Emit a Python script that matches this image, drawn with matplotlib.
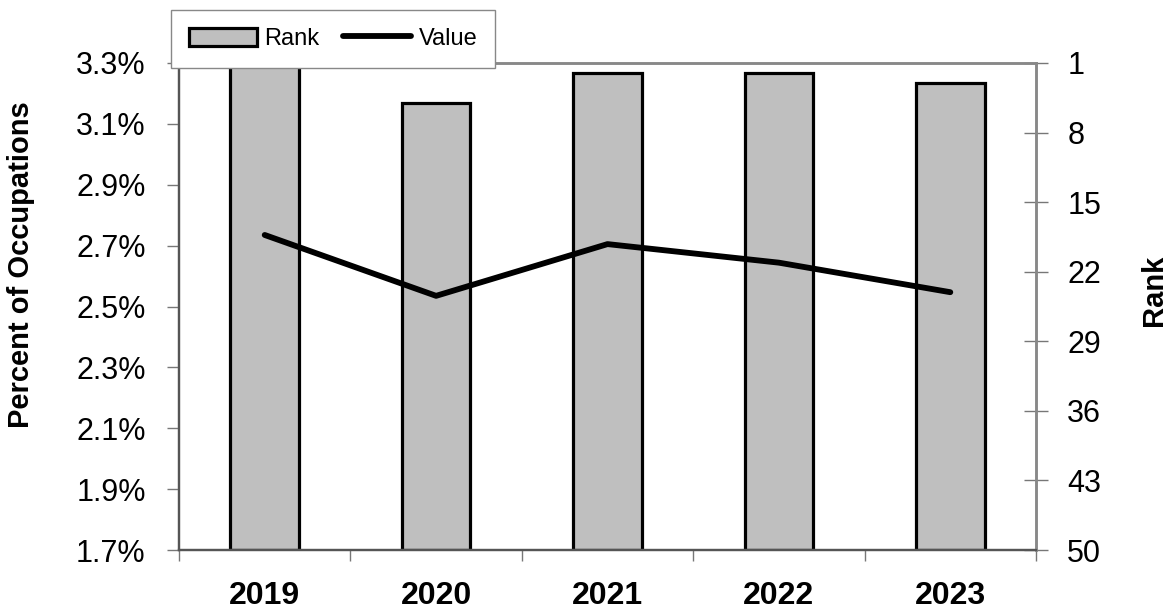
import matplotlib
matplotlib.use("Agg")
import matplotlib.pyplot as plt
from matplotlib.patches import Patch
from matplotlib.lines import Line2D
import numpy as np

# Occupation share and rank by year
years = ["2019", "2020", "2021", "2022", "2023"]
rank = [1, 5, 2, 2, 3]
value_pct = [2.735, 2.535, 2.705, 2.644, 2.547]

pct_ticks = [1.7, 1.9, 2.1, 2.3, 2.5, 2.7, 2.9, 3.1, 3.3]
rank_ticks = [1, 8, 15, 22, 29, 36, 43, 50]

plt.rcParams["font.family"] = ["Liberation Sans", "DejaVu Sans"]

W, H = 1170, 610
fig = plt.figure(figsize=(W / 100, H / 100), dpi=100)
ax_l, ax_r, ax_t, ax_b = 179, 1036, 63, 550
ax = fig.add_axes([ax_l / W, 1 - ax_b / H, (ax_r - ax_l) / W, (ax_b - ax_t) / H])
ax2 = ax.twinx()

x = np.arange(len(years))

# Rank bars on the right axis (rank 1 at top)
ax2.bar(x, np.array(rank) - 50, bottom=50, width=0.4, color="#bfbfbf",
        edgecolor="black", linewidth=2.3, zorder=2)
ax2.set_ylim(50, 1)
ax2.set_yticks(rank_ticks)
ax2.set_yticklabels([str(r) for r in rank_ticks], fontsize=22)
ax2.tick_params(axis="y", direction="inout", length=17, width=1.0,
                color="#777777", pad=14)

# Percentage line on the left axis, drawn above the bars
ax.set_zorder(ax2.get_zorder() + 1)
ax.patch.set_visible(False)
ax.plot(x, value_pct, color="black", linewidth=4.2, solid_capstyle="round",
        solid_joinstyle="round", zorder=3)
ax.set_ylim(1.7, 3.3)
ax.set_yticks(pct_ticks)
ax.set_yticklabels([f"{v:.1f}%" for v in pct_ticks], fontsize=22)
ax.tick_params(axis="y", direction="out", length=9, width=1.0,
               color="#777777", pad=15)

ax.set_xlim(-0.5, len(years) - 0.5)
ax.set_xticks(x)
ax.set_xticklabels(years, fontsize=23, fontweight="bold")
ax.set_xticks(np.arange(len(years) + 1) - 0.5, minor=True)
ax.tick_params(axis="x", which="major", length=0, pad=22)
ax.tick_params(axis="x", which="minor", direction="out", length=8,
               width=1.0, color="#777777")

for a in (ax, ax2):
    for side in ("left", "bottom"):
        a.spines[side].set_color("#555555")
        a.spines[side].set_linewidth(1.6)
    for side in ("top", "right"):
        a.spines[side].set_color("#888888")
        a.spines[side].set_linewidth(1.8)

fig.text(21 / W, 1 - 265 / H, "Percent of Occupations", rotation=90,
         ha="center", va="center", fontsize=21, fontweight="bold")
fig.text(1154 / W, 1 - 290 / H, "Rank", rotation=90,
         ha="center", va="center", fontsize=21, fontweight="bold")

handles = [
    Patch(facecolor="#bfbfbf", edgecolor="black", linewidth=2.3),
    Line2D([0], [0], color="black", linewidth=4.2, solid_capstyle="round"),
]
leg = fig.legend(handles, ["Rank", "Value"], loc="upper left",
                 bbox_to_anchor=(171 / W, 1 - 10 / H), ncol=2, fontsize=17,
                 frameon=True, fancybox=False, framealpha=1,
                 edgecolor="#888888", handlelength=2.9, handleheight=0.8,
                 handletextpad=0.3, columnspacing=1.0, borderpad=0.75,
                 borderaxespad=0)
leg.get_frame().set_linewidth(1.0)

fig.savefig("out.png", dpi=100)
